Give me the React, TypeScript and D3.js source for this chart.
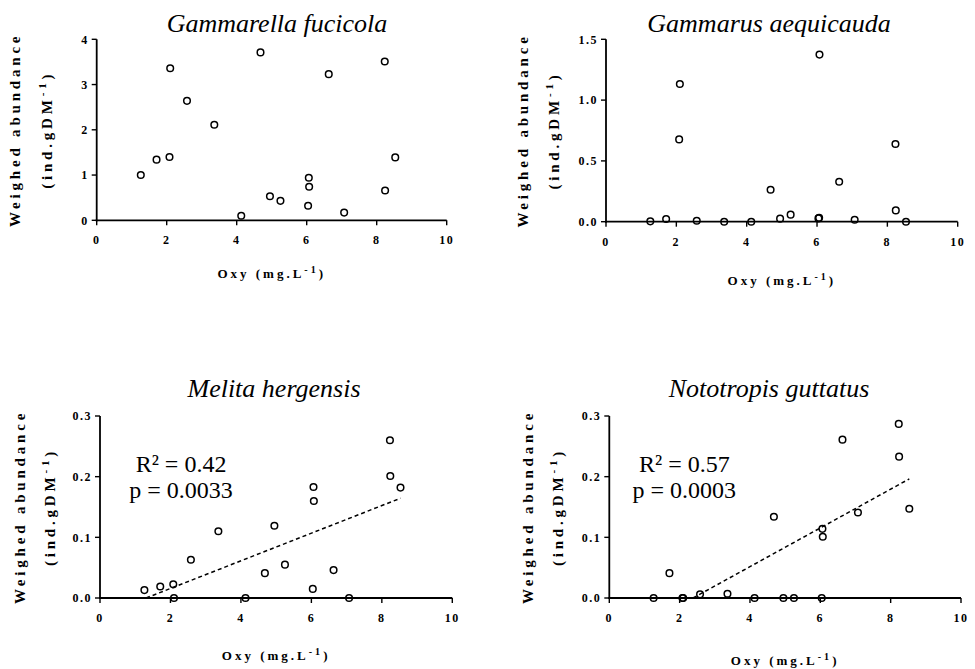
import React from "react";
import * as d3 from "d3";

// Dissolved oxygen (mg.L-1) for each of the 18 samples
const oxy = [1.26, 1.71, 2.08, 2.1, 2.58, 3.36, 4.13, 4.68, 4.95, 5.25, 6.04, 6.06, 6.07, 6.63, 7.07, 8.23, 8.24, 8.53];

// Weighed abundance (ind.gDM-1) per species, same order as oxy
const gammarellaFucicola = [1.0, 1.34, 1.4, 3.36, 2.64, 2.11, 0.1, 3.71, 0.53, 0.43, 0.32, 0.94, 0.74, 3.23, 0.17, 3.51, 0.66, 1.39];
const gammarusAequicauda = [0.003, 0.022, 0.677, 1.132, 0.008, 0.0, 0.0, 0.263, 0.025, 0.058, 0.027, 0.032, 1.374, 0.329, 0.016, 0.639, 0.093, 0.0];
const melitaHergensis = [0.013, 0.019, 0.0225, 0.0, 0.063, 0.11, 0.0, 0.041, 0.119, 0.055, 0.015, 0.183, 0.16, 0.046, 0.0, 0.26, 0.201, 0.182];
const nototropisGuttatus = [0.0, 0.041, 0.0, 0.0, 0.006, 0.007, 0.0, 0.134, 0.0, 0.0, 0.0, 0.114, 0.101, 0.261, 0.141, 0.287, 0.233, 0.147];

const speciesNames = ["Gammarella fucicola", "Gammarus aequicauda", "Melita hergensis", "Nototropis guttatus"];
const xTicks = [0, 2, 4, 6, 8, 10];
const yTicksGammarella = [0, 1, 2, 3, 4];
const yTicksGammarus = [0, 0.5, 1.0, 1.5];
const yTicksSmall = [0, 0.1, 0.2, 0.3];
const r2Labels = [null, null, "0.42", "0.57"];
const pLabels = [null, null, "0.0033", "0.0003"];

const SERIF = "'Liberation Serif', 'Times New Roman', Times, serif";

const panels = [
  { name: speciesNames[0], values: gammarellaFucicola, yTicks: yTicksGammarella, fmt: d3.format("d"), left: 96.7, right: 446.7, top: 39.3, bottom: 220.3, titleX: 277, titleY: 31.5, xLabelDy: 58, yl1: -82, yl2: -50, fit: false, r2: r2Labels[0], p: pLabels[0] },
  { name: speciesNames[1], values: gammarusAequicauda, yTicks: yTicksGammarus, fmt: d3.format(".1f"), left: 606, right: 957.7, top: 39.3, bottom: 221.7, titleX: 769, titleY: 31.5, xLabelDy: 63, yl1: -83, yl2: -52, fit: false, r2: r2Labels[1], p: pLabels[1] },
  { name: speciesNames[2], values: melitaHergensis, yTicks: yTicksSmall, fmt: d3.format(".1f"), left: 100, right: 452.3, top: 416, bottom: 598, titleX: 274, titleY: 397, xLabelDy: 62, yl1: -80, yl2: -50, fit: true, r2: r2Labels[2], p: pLabels[2], annX: 81 },
  { name: speciesNames[3], values: nototropisGuttatus, yTicks: yTicksSmall, fmt: d3.format(".1f"), left: 609.3, right: 961, top: 416, bottom: 598, titleX: 769, titleY: 397, xLabelDy: 67, yl1: -82, yl2: -52, fit: true, r2: r2Labels[3], p: pLabels[3], annX: 75 },
];

function regression(xs: number[], ys: number[]) {
  const mx = d3.mean(xs) as number;
  const my = d3.mean(ys) as number;
  let sxy = 0, sxx = 0;
  xs.forEach((x, i) => { sxy += (x - mx) * (ys[i] - my); sxx += (x - mx) * (x - mx); });
  const slope = sxy / sxx;
  return { slope, intercept: my - slope * mx };
}

function Panel({ cfg }: { cfg: any }) {
  const x = d3.scaleLinear().domain([0, 10]).range([cfg.left, cfg.right]);
  const yMax = cfg.yTicks[cfg.yTicks.length - 1];
  const y = d3.scaleLinear().domain([0, yMax]).range([cfg.bottom, cfg.top]);
  const midY = (cfg.top + cfg.bottom) / 2;
  const midX = (cfg.left + cfg.right) / 2;

  let fitPath: string | null = null;
  if (cfg.fit) {
    const { slope, intercept } = regression(oxy, cfg.values);
    const x0 = Math.max(d3.min(oxy) as number, -intercept / slope);
    const x1 = d3.max(oxy) as number;
    const line = d3.line<number>().x((d) => x(d)).y((d) => y(slope * d + intercept));
    fitPath = line([x0, x1]);
  }

  return (
    <g>
      <text x={cfg.titleX} y={cfg.titleY} textAnchor="middle" fontFamily={SERIF} fontStyle="italic" fontSize={26}>
        {cfg.name}
      </text>
      {/* axes */}
      <line x1={cfg.left} x2={cfg.left} y1={cfg.top} y2={cfg.bottom + 1} stroke="#000" strokeWidth={1.8} />
      <line x1={cfg.left - 1} x2={cfg.right} y1={cfg.bottom} y2={cfg.bottom} stroke="#000" strokeWidth={1.8} />
      {cfg.yTicks.map((t: number) => (
        <g key={"y" + t}>
          <line x1={cfg.left - 5} x2={cfg.left} y1={y(t)} y2={y(t)} stroke="#000" strokeWidth={1.4} />
          <text x={cfg.left - 8} y={y(t)} dy="0.35em" textAnchor="end" fontFamily={SERIF} fontWeight="bold" fontSize={12} letterSpacing={1.5}>
            {cfg.fmt(t)}
          </text>
        </g>
      ))}
      {xTicks.map((t) => (
        <g key={"x" + t}>
          <line x1={x(t)} x2={x(t)} y1={cfg.bottom} y2={cfg.bottom + 5} stroke="#000" strokeWidth={1.4} />
          <text x={x(t)} y={cfg.bottom + 24} textAnchor="middle" fontFamily={SERIF} fontWeight="bold" fontSize={12} letterSpacing={1.5}>
            {t}
          </text>
        </g>
      ))}
      {/* axis labels */}
      <text x={midX} y={cfg.bottom + cfg.xLabelDy} textAnchor="middle" fontFamily={SERIF} fontWeight="bold" fontSize={13} letterSpacing={3}>
        Oxy (mg.L<tspan dy={-5} fontSize={10}>-1</tspan><tspan dy={5}>)</tspan>
      </text>
      <g transform={`translate(${cfg.left + cfg.yl1},${midY}) rotate(-90)`}>
        <text x={0} y={0} dy="0.35em" textAnchor="middle" fontFamily={SERIF} fontWeight="bold" fontSize={15} letterSpacing={3.8}>
          Weighed abundance
        </text>
      </g>
      <g transform={`translate(${cfg.left + cfg.yl2},${midY}) rotate(-90)`}>
        <text x={0} y={0} dy="0.35em" textAnchor="middle" fontFamily={SERIF} fontWeight="bold" fontSize={15} letterSpacing={3.8}>
          (ind.gDM<tspan dy={-6} fontSize={11}>-1</tspan><tspan dy={6}>)</tspan>
        </text>
      </g>
      {fitPath && <path d={fitPath} fill="none" stroke="#000" strokeWidth={1.5} strokeDasharray="4,3" />}
      {oxy.map((o, i) => (
        <circle key={i} cx={x(o)} cy={y(cfg.values[i])} r={3.3} fill="none" stroke="#000" strokeWidth={1.5} />
      ))}
      {cfg.r2 && (
        <g fontFamily={SERIF} fontSize={24}>
          <text x={cfg.left + cfg.annX} y={cfg.top + 56} textAnchor="middle">R² = {cfg.r2}</text>
          <text x={cfg.left + cfg.annX} y={cfg.top + 82} textAnchor="middle">p = {cfg.p}</text>
        </g>
      )}
    </g>
  );
}

export default function App() {
  return (
    <svg width={975} height={669} style={{ position: "absolute", left: 0, top: 0, background: "#fff" }}>
      <rect width={975} height={669} fill="#fff" />
      {panels.map((p, i) => (
        <Panel key={i} cfg={p} />
      ))}
    </svg>
  );
}
